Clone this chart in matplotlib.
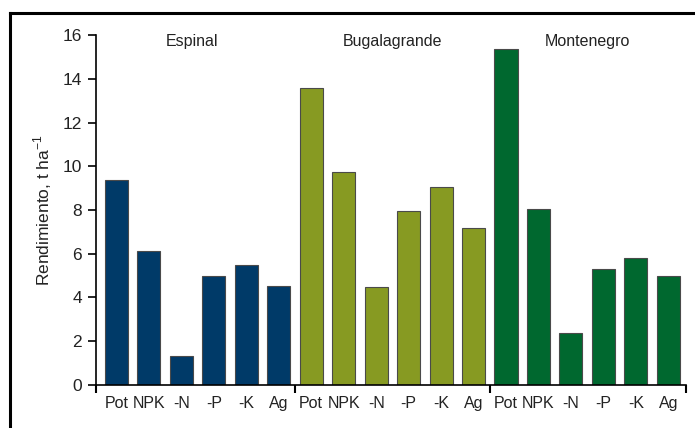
import numpy as np
import matplotlib
matplotlib.use("Agg")
import matplotlib.pyplot as plt
from matplotlib.lines import Line2D

plt.rcParams['font.family'] = ['Liberation Sans', 'DejaVu Sans']
plt.rcParams['mathtext.fontset'] = 'custom'
plt.rcParams['mathtext.rm'] = 'Liberation Sans'

sites = ["Espinal", "Bugalagrande", "Montenegro"]
treatments = ["Pot", "NPK", "-N", "-P", "-K", "Ag"]
espinal = [9.36, 6.14, 1.33, 5.0, 5.47, 4.53]
bugalagrande = [13.58, 9.75, 4.48, 7.97, 9.05, 7.18]
montenegro = [15.37, 8.03, 2.39, 5.30, 5.79, 4.98]
colors = ["#003a68", "#879a22", "#00682f"]

fig = plt.figure(figsize=(6.95, 4.28), dpi=100)
ax = fig.add_axes([0.1381, 0.1005, 0.849, 0.8177])

# frame lines round the figure (cropped at right/bottom)
fig.add_artist(Line2D([10/695, 10/695], [0, 1 - 12.5/428], transform=fig.transFigure, color="black", lw=2.2))
fig.add_artist(Line2D([10/695, 1], [1 - 12.5/428, 1 - 12.5/428], transform=fig.transFigure, color="black", lw=2.2))

all_vals = [espinal, bugalagrande, montenegro]
n = len(treatments)
for g, (vals, c) in enumerate(zip(all_vals, colors)):
    x = np.arange(n) + g * n
    ax.bar(x, vals, width=0.71, color=c, edgecolor="#4a4a4a", linewidth=0.8, zorder=2)

label_x = [2.33, 8.5, 14.5]
for name, lx in zip(sites, label_x):
    ax.text(lx, 15.7, name, ha="center", va="center", fontsize=11.5, color="#222222")

ax.set_xlim(-0.63, 17.545)
ax.set_ylim(0, 16)
ax.set_yticks(np.arange(0, 17, 2))
ax.set_xticks([-0.63, 5.5, 11.5, 17.545])
ax.set_xticklabels([])
ax.set_xticks(np.arange(3 * n), minor=True)
ax.set_xticklabels(treatments * 3, minor=True)
ax.tick_params(axis="x", which="minor", length=0, pad=8, labelsize=11.5, labelcolor="#222222")
ax.tick_params(axis="x", which="major", length=6, width=1.5, direction="out")
ax.tick_params(axis="y", length=6, width=1.2, labelsize=12.5, labelcolor="#222222", pad=4)

ax.spines["top"].set_visible(False)
ax.spines["right"].set_visible(False)
ax.spines["left"].set_linewidth(1.2)
ax.spines["bottom"].set_linewidth(1.2)

ax.set_ylabel(r"Rendimiento, t ha$^{\mathregular{-1}}$", fontsize=12.5, color="#222222", labelpad=6)

fig.savefig("out.png", dpi=100)
